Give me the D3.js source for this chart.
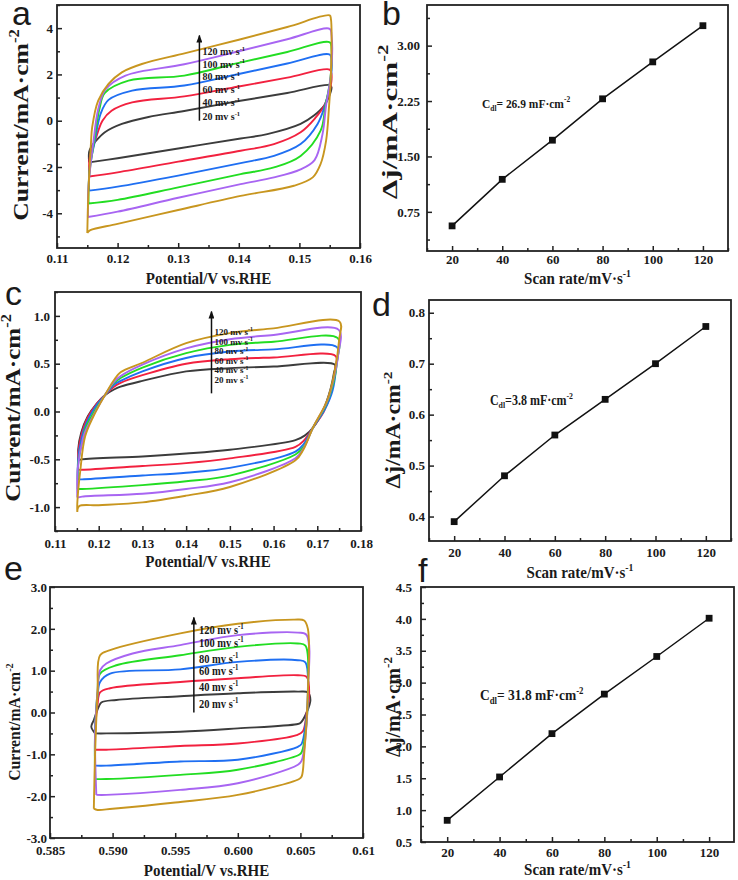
<!DOCTYPE html>
<html>
<head>
<meta charset="utf-8">
<script src="https://cdn.jsdelivr.net/npm/d3@7"></script>
<style>
body { margin: 0; background: #fff; }
text { font-family: "Liberation Serif", "Times New Roman", serif; font-weight: bold; fill: #1a1a1a; }
.axis text { font-size: 13px; }
.letter { font-family: "Liberation Sans", Arial, sans-serif; font-weight: normal; font-size: 34px; }
</style>
</head>
<body>
<div id="chart"></div>
<script>
// scan rates (mV/s) and legend text
var scanRates = [20, 40, 60, 80, 100, 120];
var legendText = ["120 mv s", "100 mv s", "80 mv s", "60 mv s", "40 mv s", "20 mv s"];
var cvColors = ["#3c3c3c", "#f2213f", "#1f6ff2", "#22dd22", "#a865f2", "#c8961f"];

// panel a: CV loops [V, mA/cm2], 20 -> 120 mV/s
var cvA20 = [[0.1153,-1.80],[0.1153,-1.35],[0.1157,-1.10],[0.1162,-0.94],[0.1179,-0.50],[0.1207,-0.14],[0.1251,0.16],[0.131,0.42],[0.14,0.85],[0.148,1.20],[0.155,1.54],[0.1553,1.45],[0.1549,1.05],[0.1541,0.65],[0.1524,0.22],[0.1502,-0.14],[0.1447,-0.58],[0.1403,-0.77],[0.13,-1.20],[0.12,-1.62],[0.1153,-1.80]];
var cvA40 = [[0.1153,-2.41],[0.1154,-1.60],[0.1162,-0.94],[0.1175,0.0],[0.119,0.43],[0.1224,0.79],[0.131,1.05],[0.14,1.48],[0.148,1.86],[0.155,2.21],[0.1553,2.0],[0.1550,1.3],[0.1541,0.65],[0.1527,0.14],[0.1502,-0.5],[0.1458,-1.01],[0.1403,-1.30],[0.13,-1.77],[0.12,-2.23],[0.1153,-2.41]];
var cvA60 = [[0.1153,-3.02],[0.1154,-2.0],[0.1162,-0.94],[0.1172,0.3],[0.1185,0.9],[0.1224,1.3],[0.131,1.52],[0.14,2.02],[0.148,2.47],[0.155,2.86],[0.1553,2.6],[0.155,1.5],[0.1542,0.65],[0.153,-0.14],[0.1502,-1.01],[0.1458,-1.52],[0.1403,-1.83],[0.13,-2.37],[0.12,-2.85],[0.1153,-3.02]];
var cvA80 = [[0.1152,-3.58],[0.1153,-2.4],[0.1161,-0.94],[0.117,0.5],[0.1179,1.2],[0.1218,1.73],[0.131,1.95],[0.14,2.5],[0.148,2.97],[0.155,3.39],[0.1553,3.1],[0.1551,1.8],[0.1543,0.65],[0.1535,-0.43],[0.1502,-1.52],[0.1458,-2.02],[0.1403,-2.31],[0.13,-2.88],[0.12,-3.42],[0.1152,-3.58]];
var cvA100 = [[0.1151,-4.16],[0.1152,-2.8],[0.116,-0.94],[0.1168,0.5],[0.118,1.35],[0.1213,1.95],[0.131,2.44],[0.14,3.0],[0.148,3.52],[0.155,3.97],[0.1553,3.7],[0.1552,2.0],[0.1544,0.65],[0.1538,-0.6],[0.1525,-1.7],[0.1502,-2.1],[0.1458,-2.45],[0.1403,-2.74],[0.13,-3.33],[0.12,-3.93],[0.1151,-4.16]];
var cvA120 = [[0.115,-4.85],[0.1152,-3.0],[0.1156,-1.0],[0.1158,-0.29],[0.1168,0.87],[0.1185,1.59],[0.1207,2.09],[0.124,2.45],[0.1312,2.92],[0.14,3.5],[0.148,4.05],[0.155,4.55],[0.1552,4.4],[0.1552,2.0],[0.1549,0.65],[0.1544,-0.87],[0.1535,-1.87],[0.1522,-2.45],[0.1491,-2.81],[0.1403,-3.25],[0.13,-3.86],[0.12,-4.46],[0.1155,-4.73],[0.115,-4.85]];

// panel c
var cvC20 = [[0.1155,-0.51],[0.1153,-0.40],[0.1160,-0.22],[0.1175,-0.05],[0.1195,0.08],[0.1214,0.17],[0.1235,0.23],[0.125,0.26],[0.13,0.32],[0.14,0.42],[0.15,0.453],[0.16,0.47],[0.174,0.49],[0.1738,0.40],[0.173,0.23],[0.1712,0.0],[0.1690,-0.17],[0.1672,-0.25],[0.165,-0.30],[0.15,-0.40],[0.14,-0.44],[0.13,-0.47],[0.1162,-0.50],[0.1155,-0.51]];
var cvC40 = [[0.1153,-0.61],[0.1153,-0.45],[0.1160,-0.25],[0.1173,-0.08],[0.1192,0.06],[0.1214,0.17],[0.1235,0.26],[0.125,0.30],[0.13,0.38],[0.14,0.50],[0.15,0.547],[0.16,0.565],[0.1742,0.58],[0.1741,0.45],[0.1733,0.22],[0.1715,0.0],[0.169,-0.17],[0.1670,-0.30],[0.165,-0.37],[0.15,-0.49],[0.14,-0.54],[0.13,-0.57],[0.1162,-0.61],[0.1153,-0.61]];
var cvC60 = [[0.1152,-0.71],[0.1153,-0.50],[0.1161,-0.28],[0.1172,-0.12],[0.1191,0.04],[0.1214,0.17],[0.1235,0.28],[0.125,0.32],[0.13,0.42],[0.14,0.56],[0.15,0.627],[0.16,0.65],[0.1745,0.673],[0.1744,0.5],[0.1735,0.22],[0.1717,0.02],[0.169,-0.17],[0.1669,-0.34],[0.165,-0.42],[0.15,-0.59],[0.14,-0.64],[0.13,-0.67],[0.1162,-0.71],[0.1152,-0.71]];
var cvC80 = [[0.1152,-0.81],[0.1153,-0.55],[0.1163,-0.30],[0.1171,-0.16],[0.1190,0.0],[0.1214,0.17],[0.1235,0.30],[0.125,0.35],[0.13,0.46],[0.14,0.61],[0.15,0.697],[0.16,0.73],[0.1747,0.767],[0.1746,0.55],[0.1737,0.30],[0.1720,0.07],[0.169,-0.17],[0.1669,-0.37],[0.165,-0.45],[0.15,-0.67],[0.14,-0.73],[0.13,-0.77],[0.1162,-0.81],[0.1152,-0.81]];
var cvC100 = [[0.1151,-0.90],[0.1152,-0.60],[0.1164,-0.28],[0.1170,-0.2],[0.1189,-0.03],[0.1214,0.17],[0.1235,0.31],[0.125,0.37],[0.13,0.49],[0.14,0.66],[0.15,0.756],[0.16,0.80],[0.1749,0.854],[0.1748,0.6],[0.1738,0.35],[0.1722,0.1],[0.169,-0.17],[0.1668,-0.39],[0.165,-0.49],[0.15,-0.74],[0.14,-0.81],[0.13,-0.86],[0.1162,-0.89],[0.1151,-0.90]];
var cvC120 = [[0.1151,-1.05],[0.1151,-0.96],[0.1158,-0.61],[0.1169,-0.26],[0.1188,-0.05],[0.1214,0.17],[0.1235,0.33],[0.125,0.41],[0.13,0.51],[0.14,0.715],[0.15,0.82],[0.16,0.87],[0.1751,0.94],[0.175,0.75],[0.1739,0.40],[0.1723,0.12],[0.169,-0.17],[0.1668,-0.40],[0.165,-0.51],[0.15,-0.79],[0.14,-0.88],[0.13,-0.95],[0.12,-0.98],[0.1155,-0.99],[0.1151,-1.05]];

// panel e
var cvE20 = [[0.5886,-0.50],[0.5883,-0.34],[0.5885,-0.18],[0.5889,0.14],[0.5891,0.24],[0.5903,0.30],[0.5954,0.39],[0.600,0.46],[0.6048,0.50],[0.6056,0.48],[0.6058,0.30],[0.6055,0.0],[0.6050,-0.25],[0.6047,-0.28],[0.600,-0.38],[0.5954,-0.46],[0.5895,-0.50],[0.5886,-0.50]];
var cvE40 = [[0.5886,-0.89],[0.5886,-0.5],[0.5888,0.2],[0.589,0.48],[0.5898,0.58],[0.5954,0.73],[0.600,0.82],[0.6048,0.89],[0.6055,0.85],[0.6057,0.4],[0.6055,0.0],[0.6052,-0.45],[0.6047,-0.54],[0.600,-0.74],[0.5954,-0.80],[0.5895,-0.89],[0.5886,-0.89]];
var cvE60 = [[0.5886,-1.27],[0.5886,-0.5],[0.5888,0.4],[0.589,0.73],[0.5898,0.93],[0.5954,1.03],[0.600,1.21],[0.6048,1.25],[0.6054,1.2],[0.6056,0.5],[0.6054,-0.3],[0.6051,-0.75],[0.6048,-0.82],[0.600,-1.13],[0.5954,-1.17],[0.5895,-1.27],[0.5886,-1.27]];
var cvE80 = [[0.5886,-1.59],[0.5886,-0.5],[0.5888,0.5],[0.589,0.93],[0.5903,1.13],[0.5954,1.37],[0.600,1.57],[0.6048,1.65],[0.6054,1.6],[0.6056,0.5],[0.6054,-0.5],[0.6051,-0.95],[0.6049,-1.01],[0.600,-1.37],[0.5954,-1.49],[0.5895,-1.59],[0.5886,-1.59]];
var cvE100 = [[0.5887,-1.97],[0.5886,-0.5],[0.5888,0.5],[0.589,1.01],[0.5895,1.17],[0.5916,1.41],[0.5954,1.61],[0.600,1.85],[0.6048,1.91],[0.6055,1.85],[0.6056,0.5],[0.6054,-0.6],[0.6051,-1.15],[0.6048,-1.25],[0.600,-1.69],[0.5954,-1.85],[0.5895,-1.97],[0.5887,-1.97]];
var cvE120 = [[0.5885,-2.30],[0.5886,-1.0],[0.5888,0.5],[0.589,1.37],[0.5898,1.49],[0.5954,1.89],[0.600,2.12],[0.6045,2.22],[0.6053,2.20],[0.6056,2.0],[0.6056,0.5],[0.6053,-1.0],[0.6051,-1.53],[0.6049,-1.59],[0.600,-1.97],[0.595,-2.15],[0.590,-2.30],[0.5888,-2.33],[0.5885,-2.30]];

// Δj vs scan rate
var djB = [0.56, 1.19, 1.72, 2.28, 2.78, 3.27];
var djD = [0.39, 0.48, 0.56, 0.63, 0.70, 0.773];
var djF = [0.84, 1.52, 2.20, 2.82, 3.41, 4.01];

var svg = d3.select("#chart").append("svg")
    .attr("width", 738)
    .attr("height", 880)

svg.append("defs").append("marker")
    .attr("id", "arrow")
    .attr("viewBox", "0 0 8 6")
    .attr("refX", 7).attr("refY", 3)
    .attr("markerUnits", "userSpaceOnUse")
    .attr("markerWidth", 8).attr("markerHeight", 6)
    .attr("orient", "auto")
    .append("path").attr("d", "M0,0 L8,3 L0,6 Z").attr("fill", "#111");

var SY = 1.15; // reference text is a bit taller than wide

function rich(sel, parts, size) {
    var cur = 0;
    parts.forEach(function(p) {
        var target = p[1] === 1 ? -0.42 * size : (p[1] === -1 ? 0.22 * size : 0);
        sel.append("tspan")
            .attr("dy", target - cur)
            .attr("font-size", p[1] ? size * 0.65 : size)
            .text(p[0]);
        cur = target;
    });
}

function range(a, b, s) {
    var out = [];
    for (var v = a; v <= b + s / 1000; v += s) out.push(+v.toFixed(6));
    return out;
}
function minus(f) { return function(v) { return f(v).replace("\u2212", "-"); }; }

function panel(p) {
    var x = d3.scaleLinear().domain(p.xDomain).range([p.left, p.right]);
    var y = d3.scaleLinear().domain(p.yDomain).range([p.bottom, p.top]);
    var g = svg.append("g");

    g.append("g").attr("class", "axis").attr("transform", `translate(0,${p.bottom})`)
        .call(d3.axisBottom(x).tickValues(p.xMinor).tickSizeInner(-3).tickSizeOuter(0).tickFormat(""));
    g.append("g").attr("class", "axis").attr("transform", `translate(0,${p.bottom})`)
        .call(d3.axisBottom(x).tickValues(p.xMajor).tickSizeInner(-5).tickSizeOuter(0).tickPadding(p.xPad).tickFormat(p.xFmt));
    g.append("g").attr("class", "axis").attr("transform", `translate(${p.left},0)`)
        .call(d3.axisLeft(y).tickValues(p.yMinor).tickSizeInner(-3).tickSizeOuter(0).tickFormat(""));
    g.append("g").attr("class", "axis").attr("transform", `translate(${p.left},0)`)
        .call(d3.axisLeft(y).tickValues(p.yMajor).tickSizeInner(-5).tickSizeOuter(0).tickPadding(p.yPad).tickFormat(p.yFmt));
    g.selectAll(".domain").remove();
    g.selectAll(".tick line").attr("stroke", "#222").attr("stroke-width", 1.5);
    g.selectAll(".axis").attr("font-family", null).attr("font-size", null);

    g.append("rect")
        .attr("x", p.left).attr("y", p.top)
        .attr("width", p.right - p.left).attr("height", p.bottom - p.top)
        .attr("fill", "none").attr("stroke", "#222").attr("stroke-width", 1.8);

    var xt = g.append("text").attr("text-anchor", "middle")
        .attr("transform", `translate(${(p.left + p.right) / 2},${p.xtY}) scale(1,${SY})`);
    rich(xt, p.xTitle, 15);

    // y title: stretch glyphs along the text to the reference length
    var yt = g.append("text").attr("text-anchor", "middle");
    rich(yt, p.yTitle, p.ytSize);
    var len = yt.node().getBBox().width;
    yt.attr("transform", `translate(${p.ytX},${p.ytC}) rotate(-90) scale(${p.ytLen / len},1)`);

    svg.append("text").attr("class", "letter").attr("x", p.letterX).attr("y", p.letterY).text(p.letter);
    return {x: x, y: y, g: g};
}

function cvPanel(p, loops) {
    var c = panel(p);
    var line = d3.line()
        .x(d => c.x(d[0]))
        .y(d => c.y(d[1]))
        .curve(d3.curveCatmullRom.alpha(0.5));
    c.g.selectAll(".cv").data(loops).enter().append("path")
        .attr("d", line)
        .attr("fill", "none")
        .attr("stroke", (d, i) => cvColors[i])
        .attr("stroke-width", 1.9);

    c.g.append("line")
        .attr("x1", c.x(p.arrow[0])).attr("x2", c.x(p.arrow[0]))
        .attr("y1", c.y(p.arrow[1])).attr("y2", c.y(p.arrow[2]))
        .attr("stroke", "#111").attr("stroke-width", 1.5)
        .attr("marker-end", "url(#arrow)");
    legendText.forEach(function(t, i) {
        var tx = c.g.append("text")
            .attr("transform", `translate(${c.x(p.legX)},${c.y(p.legY[i]) + 3.5}) scale(1,${p.legSY})`);
        rich(tx, [[t, 0], ["-1", 1]], p.legSize);
    });
}

function djPanel(p, dj) {
    var c = panel(p);
    var pts = scanRates.map((r, i) => [r, dj[i]]);
    c.g.append("path")
        .attr("d", d3.line().x(d => c.x(d[0])).y(d => c.y(d[1]))(pts))
        .attr("fill", "none").attr("stroke", "#111").attr("stroke-width", 1.5);
    c.g.selectAll(".sq").data(pts).enter().append("rect")
        .attr("x", d => c.x(d[0]) - 3.4).attr("y", d => c.y(d[1]) - 3.4)
        .attr("width", 6.8).attr("height", 6.8).attr("fill", "#111");
    var t = c.g.append("text")
        .attr("transform", `translate(${c.x(p.note[0])},${c.y(p.note[1])}) scale(1,${SY})`);
    rich(t, p.noteText, p.noteSize);
}

var cvYTitle = [["Current/mA\u00b7cm", 0], ["-2", 1]];
var cvXTitle = [["Potential/V vs.RHE", 0]];
var djYTitle = [["\u0394j/mA\u00b7cm", 0], ["-2", 1]];
var djXTitle = [["Scan rate/mV\u00b7s", 0], ["-1", 1]];
var rateTicks = range(20, 120, 20), rateMinor = range(10, 130, 20);

cvPanel({
    left: 57, right: 360, top: 5, bottom: 248,
    xDomain: [0.11, 0.16], yDomain: [-5.5, 5],
    xMajor: range(0.11, 0.16, 0.01), xMinor: range(0.115, 0.155, 0.01),
    yMajor: range(-4, 4, 2), yMinor: range(-5, 5, 2),
    xFmt: d3.format(".2f"), yFmt: minus(d3.format("d")), xPad: 6, yPad: 4,
    xTitle: cvXTitle, xtY: 284, yTitle: cvYTitle, ytX: 28, ytC: 125, ytLen: 192, ytSize: 21,
    letter: "a", letterX: 12, letterY: 25,
    arrow: [0.1335, 0, 3.68], legX: 0.1340, legY: [2.97, 2.45, 1.90, 1.33, 0.77, 0.17], legSize: 10, legSY: 1.1
}, [cvA20, cvA40, cvA60, cvA80, cvA100, cvA120]);

djPanel({
    left: 427, right: 728, top: 5, bottom: 251,
    xDomain: [10, 130], yDomain: [0.22, 3.55],
    xMajor: rateTicks, xMinor: rateMinor,
    yMajor: [0.75, 1.5, 2.25, 3.0], yMinor: [0.375, 1.125, 1.875, 2.625, 3.375],
    xFmt: d3.format("d"), yFmt: d3.format(".2f"), xPad: 4, yPad: 7,
    xTitle: djXTitle, xtY: 284, yTitle: djYTitle, ytX: 397, ytC: 122, ytLen: 155, ytSize: 21,
    letter: "b", letterX: 382, letterY: 25,
    note: [31.9, 2.16], noteSize: 11.5,
    noteText: [["C", 0], ["dl", -1], ["= 26.9 mF\u00b7cm", 0], ["-2", 1]]
}, djB);

cvPanel({
    left: 55, right: 361, top: 292, bottom: 531,
    xDomain: [0.11, 0.18], yDomain: [-1.25, 1.25],
    xMajor: range(0.11, 0.18, 0.01), xMinor: range(0.115, 0.175, 0.01),
    yMajor: range(-1, 1, 0.5), yMinor: range(-1.25, 1.25, 0.5),
    xFmt: d3.format(".2f"), yFmt: minus(d3.format(".1f")), xPad: 8, yPad: 5,
    xTitle: cvXTitle, xtY: 567, yTitle: cvYTitle, ytX: 20, ytC: 408, ytLen: 188, ytSize: 21,
    letter: "c", letterX: 5, letterY: 305,
    arrow: [0.1458, 0.19, 1.045], legX: 0.1465, legY: [0.836, 0.731, 0.634, 0.533, 0.436, 0.339], legSize: 9, legSY: 1
}, [cvC20, cvC40, cvC60, cvC80, cvC100, cvC120]);

djPanel({
    left: 429, right: 731, top: 300, bottom: 541,
    xDomain: [10, 130], yDomain: [0.352, 0.825],
    xMajor: rateTicks, xMinor: rateMinor,
    yMajor: range(0.4, 0.8, 0.1), yMinor: range(0.45, 0.75, 0.1),
    xFmt: d3.format("d"), yFmt: d3.format(".1f"), xPad: 7, yPad: 4,
    xTitle: djXTitle, xtY: 578, yTitle: djYTitle, ytX: 400, ytC: 430, ytLen: 117, ytSize: 20,
    letter: "d", letterX: 372, letterY: 316,
    note: [34.2, 0.619], noteSize: 12,
    noteText: [["C", 0], ["dl", -1], ["=3.8 mF\u00b7cm", 0], ["-2", 1]]
}, djD);

cvPanel({
    left: 50, right: 363, top: 587, bottom: 838,
    xDomain: [0.585, 0.61], yDomain: [-3, 3],
    xMajor: range(0.585, 0.61, 0.005), xMinor: range(0.5875, 0.6075, 0.005),
    yMajor: range(-3, 3, 1), yMinor: range(-2.5, 2.5, 1),
    xFmt: v => (v > 0.6095 ? "0.61" : d3.format(".3f")(v)), yFmt: minus(d3.format(".1f")), xPad: 8, yPad: 3,
    xTitle: cvXTitle, xtY: 876, yTitle: cvYTitle, ytX: 20, ytC: 722, ytLen: 118, ytSize: 17,
    letter: "e", letterX: 4, letterY: 580,
    arrow: [0.59649, 0, 2.27], legX: 0.5969, legY: [1.97, 1.65, 1.27, 0.97, 0.60, 0.20], legSize: 10.5, legSY: SY
}, [cvE20, cvE40, cvE60, cvE80, cvE100, cvE120]);

djPanel({
    left: 421, right: 734, top: 587, bottom: 842,
    xDomain: [10, 129.5], yDomain: [0.5, 4.5],
    xMajor: rateTicks, xMinor: rateMinor.slice(0, 6),
    yMajor: range(0.5, 4.5, 0.5), yMinor: range(0.75, 4.25, 0.5),
    xFmt: d3.format("d"), yFmt: d3.format(".1f"), xPad: 6, yPad: 9,
    xTitle: djXTitle, xtY: 875, yTitle: djYTitle, ytX: 400, ytC: 707, ytLen: 100, ytSize: 20,
    letter: "f", letterX: 418, letterY: 582,
    note: [32.5, 2.72], noteSize: 13.5,
    noteText: [["C", 0], ["dl", -1], ["= 31.8 mF\u00b7cm", 0], ["-2", 1]]
}, djF);
</script>
</body>
</html>
